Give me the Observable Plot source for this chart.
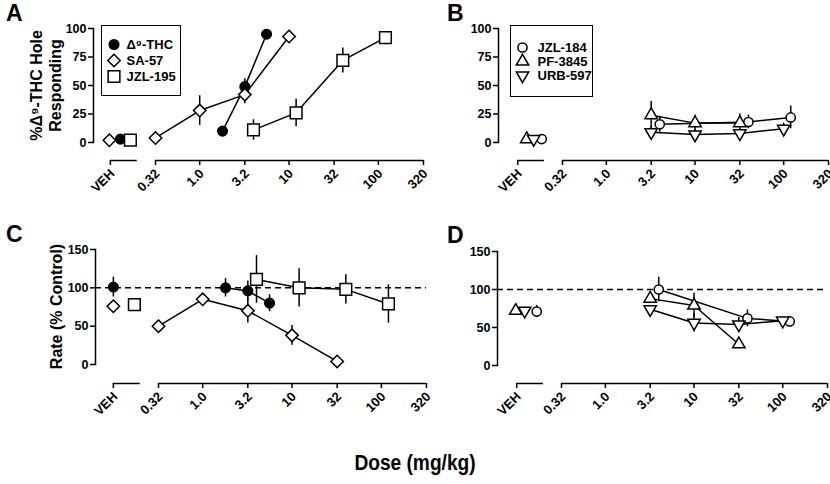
<!DOCTYPE html>
<html><head><meta charset="utf-8">
<script src="https://cdn.jsdelivr.net/npm/d3@7"></script>
<script src="https://cdn.jsdelivr.net/npm/@observablehq/plot@0.6"></script>
<style>
body{margin:0;background:#fff;font-family:"Liberation Sans",Arial,Helvetica,sans-serif;color:#000;}
#wrap{position:relative;width:830px;height:484px;overflow:hidden;}
#wrap svg.layer{position:absolute;left:0;top:0;}
.txt{position:absolute;font-weight:bold;line-height:1;white-space:nowrap;}
.legend{position:absolute;border:1.5px solid #000;box-sizing:border-box;background:#fff;}
.legend svg{display:block;}
</style></head><body><div id="wrap"></div>
<script>
// ---------------- axis ticks ----------------
const xTickValues = [0.32, 1, 3.2, 10, 32, 100, 320];
const xTickLabels = ["0.32", "1.0", "3.2", "10", "32", "100", "320"];
const vehLabel = "VEH";
const vehTick = 0.1;      // position of the vehicle segment on the broken axis
const vehAxisEnd = 0.2;
const yTicksDisc = [0, 25, 50, 75, 100];
const yTicksRate = [0, 50, 100, 150];
const rateReference = 100;

const namesAC = ["Δ⁹-THC", "SA-57", "JZL-195"];
const namesBD = ["JZL-184", "PF-3845", "URB-597"];

// ---------------- Panel A: % Δ9-THC hole responding ----------------
const aThcDose = [1.8, 3.2, 5.6], aThcMean = [10, 49, 95], aThcSem = [0, 7, 0];
const aSaDose = [0.32, 1.0, 3.2, 10], aSaMean = [4, 28, 42, 93], aSaSem = [0, 13, 8, 0];
const aJzlDose = [4, 12, 40, 120], aJzlMean = [11, 26, 72, 92], aJzlSem = [9, 12, 11, 0];
const aVehMean = [3, 2, 2], aVehSem = [0, 0, 0];          // THC, SA-57, JZL-195

// ---------------- Panel B ----------------
const bJzl184Dose = [4, 40, 120], bJzl184Mean = [16, 18, 22], bJzl184Sem = [7, 6, 10];
const bPfDose = [3.2, 10, 32], bPfMean = [24, 17, 17], bPfSem = [12, 7, 8];
const bUrbDose = [3.2, 10, 32, 100], bUrbMean = [9, 7, 8, 12], bUrbSem = [5, 4, 4, 5];
const bVehMean = [3, 3, 3], bVehSem = [0, 0, 0];          // JZL-184, PF-3845, URB-597

// ---------------- Panel C: rate (% control) ----------------
const cThcDose = [1.8, 3.2, 5.6], cThcMean = [100, 96, 80], cThcSem = [12, 13, 11];
const cSaDose = [0.32, 1.0, 3.2, 10, 32], cSaMean = [50, 85, 70, 38, 4], cSaSem = [0, 0, 16, 13, 0];
const cJzlDose = [4, 12, 40, 120], cJzlMean = [111, 100, 98, 79], cJzlSem = [31, 25, 19, 25];
const cVehMean = [101, 76, 78], cVehSem = [13, 0, 0];

// ---------------- Panel D ----------------
const dJzl184Dose = [4, 40, 120], dJzl184Mean = [100, 62, 58], dJzl184Sem = [16, 11, 0];
const dPfDose = [3.2, 10, 32], dPfMean = [88, 79, 28], dPfSem = [0, 16, 0];
const dUrbDose = [3.2, 10, 32, 100], dUrbMean = [74, 56, 54, 59], dUrbSem = [0, 12, 9, 0];
const dVehMean = [71, 72, 72], dVehSem = [8, 0, 0];

// ---------------- styling ----------------
const font = "'Liberation Sans', Arial, Helvetica, sans-serif";
const triangleDown = {
  draw(context, size) {
    const y = -Math.sqrt(size / (Math.sqrt(3) * 3));
    context.moveTo(0, -y * 2);
    context.lineTo(-Math.sqrt(3) * y, y);
    context.lineTo(Math.sqrt(3) * y, y);
    context.closePath();
  }
};
const symbolStyle = {
  "Δ⁹-THC": {symbol: "circle", fill: "black", r: 4.8},
  "SA-57": {symbol: "diamond2", fill: "white", r: 5.6},
  "JZL-195": {symbol: "square", fill: "white", r: 6.6},
  "JZL-184": {symbol: "circle", fill: "white", r: 4.6},
  "PF-3845": {symbol: "triangle", fill: "white", r: 4.6},
  "URB-597": {symbol: triangleDown, fill: "white", r: 4.6}
};
const layout = {
  A: {left: 93, top: 28, zero: 142, axis: 160, x032: 155, x320: 423,
      vehDx: {"Δ⁹-THC": 10, "SA-57": -1, "JZL-195": 20}},
  B: {left: 498, top: 28, zero: 142, axis: 160, x032: 562, x320: 828,
      vehDx: {"JZL-184": 24, "PF-3845": 9, "URB-597": 16}},
  C: {left: 95, top: 249, zero: 364, axis: 383, x032: 158, x320: 426,
      vehDx: {"Δ⁹-THC": 0, "SA-57": 0, "JZL-195": 21}},
  D: {left: 497, top: 251, zero: 365, axis: 383, x032: 561, x320: 827,
      vehDx: {"JZL-184": 20, "PF-3845": -1, "URB-597": 8}}
};

function makeSeries(name, dose, mean, sem, vehMean, vehSem) {
  return {
    name,
    points: dose.map((d, i) => ({name, dose: d, mean: mean[i], sem: sem[i]})),
    veh: {name, dose: vehTick, mean: vehMean, sem: vehSem}
  };
}

const W = 830, H = 484;
const wrap = document.getElementById("wrap");
const xLabelRows = xTickValues.map((v, i) => ({v, label: xTickLabels[i]})).concat([{v: vehTick, label: vehLabel}]);

function drawPanel(cfg, series, opts) {
  const lift = cfg.axis - cfg.zero;
  const axisSegments = [{from: vehTick, to: vehAxisEnd}, {from: xTickValues[0], to: xTickValues[xTickValues.length - 1]}];
  const marks = [
    Plot.frame({anchor: "left", insetBottom: lift, strokeWidth: 1.5}),
    Plot.ruleY(axisSegments, {x1: "from", x2: "to", y: () => 0, dy: lift, strokeWidth: 1.5}),
    Plot.axisX(xTickValues.concat([vehTick]), {fill: "none", strokeWidth: 1.5, tickSize: 5, label: null}),
    Plot.text(xLabelRows, {x: "v", text: "label", frameAnchor: "bottom", rotate: -45, textAnchor: "end", lineAnchor: "middle",
      dx: 2, dy: 11, fontSize: 13, fontWeight: "bold", fill: "black"}),
    Plot.axisY(opts.yTicks, {fontSize: 12.5, fontWeight: "bold", strokeWidth: 1.5, tickSize: 5, tickPadding: 2, label: null})
  ];
  if (opts.refLine != null) marks.push(Plot.ruleY([opts.refLine], {strokeDasharray: "6,4", strokeWidth: 1.5}));
  if (opts.yLabel) marks.push(Plot.text([opts.yLabel], {frameAnchor: "left", textAnchor: "middle", lineAnchor: "middle", rotate: -90,
      dx: opts.yLabelDx, dy: opts.yLabelDy, fontSize: 16, fontWeight: "bold", lineHeight: 1.15, fill: "black"}));
  for (const s of series) marks.push(Plot.line(s.points, {x: "dose", y: "mean", stroke: "black", strokeWidth: 1.5}));
  for (const s of series) {
    const err = s.points.filter((p) => p.sem > 0);
    marks.push(Plot.ruleX(err, {x: "dose", y1: (p) => p.mean - p.sem, y2: (p) => p.mean + p.sem, strokeWidth: 1.5}));
    if (s.veh.sem > 0) marks.push(Plot.ruleX([s.veh], {x: "dose", y1: (p) => p.mean - p.sem, y2: (p) => p.mean + p.sem, dx: cfg.vehDx[s.name], strokeWidth: 1.5}));
  }
  for (const s of series) {
    const st = symbolStyle[s.name];
    const dotOpts = {x: "dose", y: "mean", symbol: st.symbol, fill: st.fill, stroke: "black", strokeWidth: 1.5, r: st.r};
    marks.push(Plot.dot(s.points, dotOpts));
    marks.push(Plot.dot([s.veh], {...dotOpts, dx: cfg.vehDx[s.name]}));
  }
  const svg = Plot.plot({
    width: W, height: H,
    marginLeft: cfg.left, marginRight: W - cfg.x320, marginTop: cfg.top, marginBottom: H - cfg.axis,
    style: {background: "none", fontFamily: font, color: "black", overflow: "visible", maxWidth: "none"},
    x: {type: "log", domain: [xTickValues[0], xTickValues[xTickValues.length - 1]], range: [cfg.x032, cfg.x320]},
    y: {domain: [0, opts.yTicks[opts.yTicks.length - 1]], range: [cfg.zero, cfg.top]},
    marks
  });
  svg.classList.add("layer");
  wrap.appendChild(svg);
}

function drawLegend(names, box) {
  const div = document.createElement("div");
  div.className = "legend";
  Object.assign(div.style, {left: box.left + "px", top: box.top + "px", width: box.w + "px", height: box.h + "px"});
  const marks = [];
  for (const n of names) {
    const st = symbolStyle[n];
    marks.push(Plot.dot([n], {y: (d) => d, frameAnchor: "left", dx: box.symX, symbol: st.symbol, fill: st.fill, stroke: "black", strokeWidth: 1.5, r: st.r}));
  }
  marks.push(Plot.text(names, {y: (d) => d, text: (d) => d, frameAnchor: "left", dx: box.textX, textAnchor: "start", lineAnchor: "middle", fontSize: 13, fontWeight: "bold", fill: "black"}));
  const svg = Plot.plot({
    width: box.w - 3, height: box.h - 3, margin: 0,
    style: {background: "none", fontFamily: font, overflow: "visible", maxWidth: "none"},
    y: {type: "point", domain: names, range: box.rows, axis: null},
    marks
  });
  div.appendChild(svg);
  wrap.appendChild(div);
}

function addText(str, x, y, size, extra) {
  const d = document.createElement("div");
  d.className = "txt";
  d.textContent = str;
  Object.assign(d.style, {left: x + "px", top: y + "px", fontSize: size + "px"}, extra || {});
  wrap.appendChild(d);
  return d;
}

const seriesA = [
  makeSeries(namesAC[0], aThcDose, aThcMean, aThcSem, aVehMean[0], aVehSem[0]),
  makeSeries(namesAC[1], aSaDose, aSaMean, aSaSem, aVehMean[1], aVehSem[1]),
  makeSeries(namesAC[2], aJzlDose, aJzlMean, aJzlSem, aVehMean[2], aVehSem[2])
];
const seriesB = [
  makeSeries(namesBD[0], bJzl184Dose, bJzl184Mean, bJzl184Sem, bVehMean[0], bVehSem[0]),
  makeSeries(namesBD[1], bPfDose, bPfMean, bPfSem, bVehMean[1], bVehSem[1]),
  makeSeries(namesBD[2], bUrbDose, bUrbMean, bUrbSem, bVehMean[2], bVehSem[2])
];
const seriesC = [
  makeSeries(namesAC[0], cThcDose, cThcMean, cThcSem, cVehMean[0], cVehSem[0]),
  makeSeries(namesAC[1], cSaDose, cSaMean, cSaSem, cVehMean[1], cVehSem[1]),
  makeSeries(namesAC[2], cJzlDose, cJzlMean, cJzlSem, cVehMean[2], cVehSem[2])
];
const seriesD = [
  makeSeries(namesBD[0], dJzl184Dose, dJzl184Mean, dJzl184Sem, dVehMean[0], dVehSem[0]),
  makeSeries(namesBD[1], dPfDose, dPfMean, dPfSem, dVehMean[1], dVehSem[1]),
  makeSeries(namesBD[2], dUrbDose, dUrbMean, dUrbSem, dVehMean[2], dVehSem[2])
];

drawPanel(layout.A, seriesA, {yTicks: yTicksDisc, yLabel: "%Δ⁹-THC Hole\nResponding", yLabelDx: -48, yLabelDy: -9});
drawPanel(layout.B, seriesB, {yTicks: yTicksDisc});
drawPanel(layout.C, seriesC, {yTicks: yTicksRate, refLine: rateReference, yLabel: "Rate (% Control)", yLabelDx: -39, yLabelDy: -10});
drawPanel(layout.D, seriesD, {yTicks: yTicksRate, refLine: rateReference});

drawLegend(namesAC, {left: 101, top: 25, w: 80, h: 71, symX: 11.5, textX: 24, rows: [9, 58.5]});
drawLegend(namesBD, {left: 510, top: 25, w: 83, h: 72, symX: 11, textX: 26, rows: [13, 57]});

addText("A", 6, 1.5, 23);
addText("B", 447, 1.5, 23);
addText("C", 6, 222.5, 23);
addText("D", 447, 223.5, 23);
addText("Dose (mg/kg)", 415, 452, 22, {transform: "scaleX(0.87) translateX(-50%)", transformOrigin: "0 0"});
</script></body></html>
